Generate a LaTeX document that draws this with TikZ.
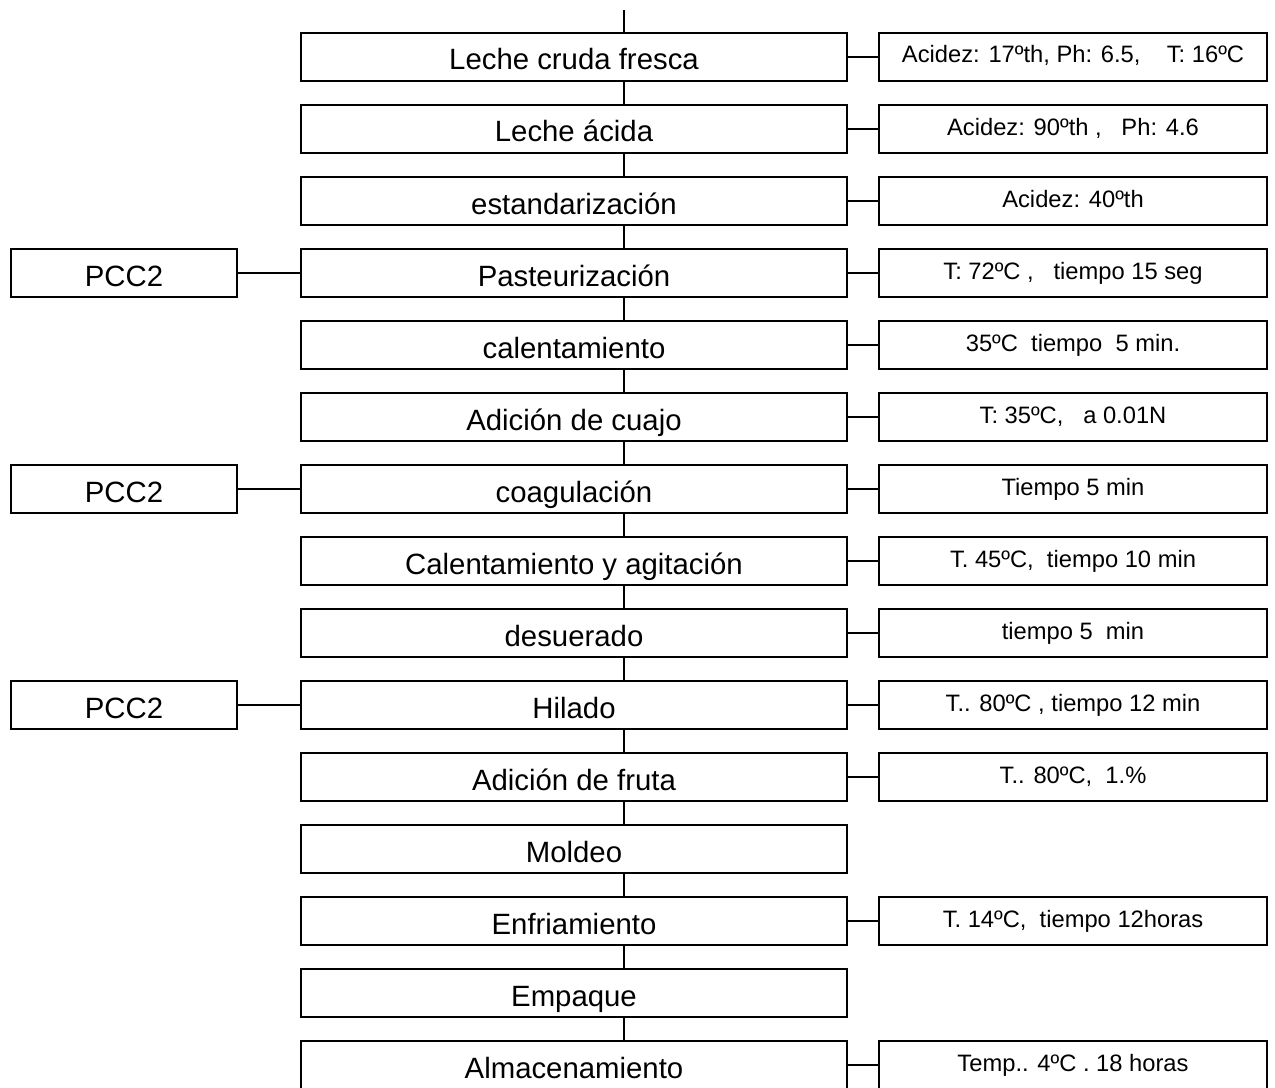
\documentclass[tikz,border=0pt]{standalone}
\usepackage{fontspec}
\setmainfont{Liberation Sans}
\usetikzlibrary{positioning,calc}

\begin{document}
\begin{tikzpicture}[
  line width=0.85pt,
  paso/.style={draw,rectangle,minimum width=10.92cm,minimum height=0.96cm,
               inner sep=0pt,font=\fontsize{16.7}{18}\selectfont,
               text height=0.52cm,text depth=0pt},
  dato/.style={draw,rectangle,minimum width=7.76cm,minimum height=0.96cm,
               inner sep=0pt,font=\fontsize{13.5}{15}\selectfont,
               text height=0.24cm,text depth=0pt},
  pcc/.style={paso,minimum width=4.52cm},
  enl/.style={draw,line width=0.85pt}
]
\useasboundingbox (0,0) rectangle (25.5,-21.74);

% ---- Entry line --------------------------------------------
\coordinate (top) at (12.48,-0.2);

% ---- Row 1 --------------------------------------------------
\node[paso] (p1) at (11.48,-1.14) {Leche cruda fresca};
\node[dato] (d1) at (21.46,-1.14) {Acidez: 17ºth, Ph: 6.5,\ \ \ \ T: 16ºC};

% ---- Row 2 --------------------------------------------------
\node[paso] (p2) at (11.48,-2.58) {Leche ácida};
\node[dato] (d2) at (21.46,-2.58) {Acidez: 90ºth ,\ \ \ Ph: 4.6};

% ---- Row 3 --------------------------------------------------
\node[paso] (p3) at (11.48,-4.02) {estandarización};
\node[dato] (d3) at (21.46,-4.02) {Acidez: 40ºth};

% ---- Row 4 --------------------------------------------------
\node[pcc]  (c4) at (2.48,-5.46)  {PCC2};
\node[paso] (p4) at (11.48,-5.46) {Pasteurización};
\node[dato] (d4) at (21.46,-5.46) {T: 72ºC ,\ \ \ tiempo 15 seg};

% ---- Row 5 --------------------------------------------------
\node[paso] (p5) at (11.48,-6.90) {calentamiento};
\node[dato] (d5) at (21.46,-6.90) {35ºC\ \ tiempo\ \ 5 min.};

% ---- Row 6 --------------------------------------------------
\node[paso] (p6) at (11.48,-8.34) {Adición de cuajo};
\node[dato] (d6) at (21.46,-8.34) {T: 35ºC,\ \ \ a 0.01N};

% ---- Row 7 --------------------------------------------------
\node[pcc]  (c7) at (2.48,-9.78)  {PCC2};
\node[paso] (p7) at (11.48,-9.78) {coagulación};
\node[dato] (d7) at (21.46,-9.78) {Tiempo 5 min};

% ---- Row 8 --------------------------------------------------
\node[paso] (p8) at (11.48,-11.22) {Calentamiento y agitación};
\node[dato] (d8) at (21.46,-11.22) {T. 45ºC,\ \ tiempo 10 min};

% ---- Row 9 --------------------------------------------------
\node[paso] (p9) at (11.48,-12.66) {desuerado};
\node[dato] (d9) at (21.46,-12.66) {tiempo 5\ \ min};

% ---- Row 10 -------------------------------------------------
\node[pcc]  (c10) at (2.48,-14.10)  {PCC2};
\node[paso] (p10) at (11.48,-14.10) {Hilado};
\node[dato] (d10) at (21.46,-14.10) {T.. 80ºC , tiempo 12 min};

% ---- Row 11 -------------------------------------------------
\node[paso] (p11) at (11.48,-15.54) {Adición de fruta};
\node[dato] (d11) at (21.46,-15.54) {T.. 80ºC,\ \ 1.\%};

% ---- Row 12 -------------------------------------------------
\node[paso] (p12) at (11.48,-16.98) {Moldeo};

% ---- Row 13 -------------------------------------------------
\node[paso] (p13) at (11.48,-18.42) {Enfriamiento};
\node[dato] (d13) at (21.46,-18.42) {T. 14ºC,\ \ tiempo 12horas};

% ---- Row 14 -------------------------------------------------
\node[paso] (p14) at (11.48,-19.86) {Empaque};

% ---- Row 15 -------------------------------------------------
\node[paso] (p15) at (11.48,-21.30) {Almacenamiento};
\node[dato] (d15) at (21.46,-21.30) {Temp.. 4ºC . 18 horas};

% Vertical flow line
\draw[enl] (top) -- (p1.north -| top);
\foreach \a/\b in {1/2,2/3,3/4,4/5,5/6,6/7,7/8,8/9,9/10,10/11,11/12,12/13,13/14,14/15}
  \draw[enl] (p\a.south -| top) -- (p\b.north -| top);

% Side links
\foreach \i in {1,2,3,4,5,6,7,8,9,10,11,13,15}
  \draw[enl] (p\i.east) -- (d\i.west);
\foreach \i in {4,7,10}
  \draw[enl] (c\i.east) -- (p\i.west);

\end{tikzpicture}
\end{document}
